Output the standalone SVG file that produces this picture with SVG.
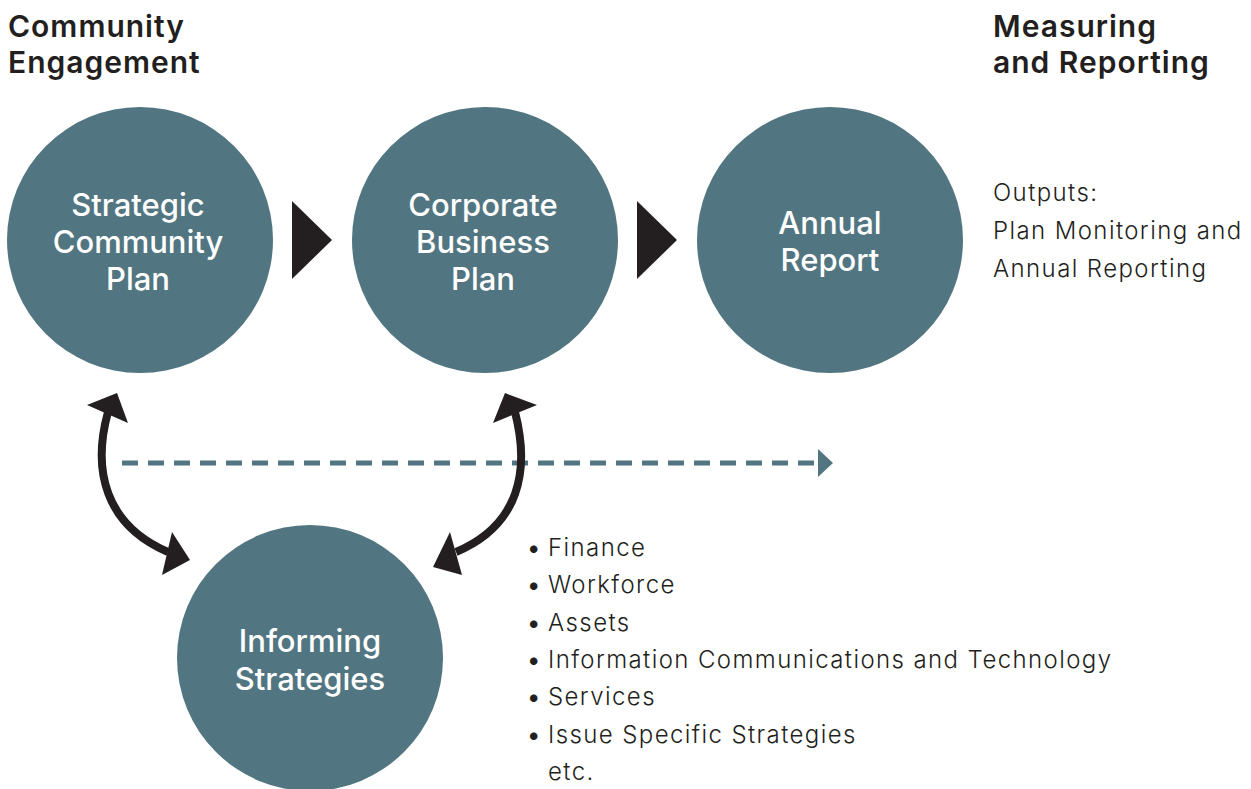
<svg xmlns="http://www.w3.org/2000/svg" width="1251" height="789" viewBox="0 0 1251 789">
<style>
.node{fill:#527681}
.lbl{font-family:Inter,"Open Sans",sans-serif;font-size:31px;font-weight:500;fill:#ffffff;text-anchor:middle}
.head{font-family:Inter,"Open Sans",sans-serif;font-size:30px;font-weight:600;fill:#231f20;letter-spacing:1px}
.body{font-family:Inter,"Open Sans",sans-serif;font-size:24px;font-weight:300;fill:#231f20;letter-spacing:1.4px}
.bul{font-weight:700}
.tri{fill:#231f20}
.curve{fill:none;stroke:#231f20;stroke-width:8}
.dash{fill:none;stroke:#527681;stroke-width:5;stroke-dasharray:16 10}
</style>
<rect width="1251" height="789" fill="#ffffff"/>
<g id="heading-left">
<text class="head"><tspan x="8" y="37">Community</tspan><tspan x="8" y="73">Engagement</tspan></text>
</g>
<g id="heading-right">
<text class="head"><tspan x="993" y="37">Measuring</tspan><tspan x="993" y="73">and Reporting</tspan></text>
</g>
<g id="outputs">
<text class="body"><tspan x="993" y="201">Outputs:</tspan><tspan x="993" y="239">Plan Monitoring and</tspan><tspan x="993" y="277">Annual Reporting</tspan></text>
</g>
<g id="connectors">
<polygon class="tri" points="292,201 332,240 292,279"/>
<polygon class="tri" points="637,201 677,240 637,279"/>
<path class="dash" d="M122,463 H818"/>
<polygon fill="#527681" points="818,449 833,463 818,477"/>
<path class="curve" d="M108,412 C92,470 105,525 168,552"/>
<polygon class="tri" points="117,393 87,405 128,423"/>
<polygon class="tri" points="190,560 172,532 162,575"/>
<path class="curve" d="M515,412 C530,470 520,525 456,552"/>
<polygon class="tri" points="505,393 537,405 493,423"/>
<polygon class="tri" points="433,567 450,532 462,575"/>
</g>
<g id="strategic-community-plan">
<circle class="node" cx="140" cy="240" r="133"/>
<text class="lbl"><tspan x="138" y="216">Strategic</tspan><tspan x="138" y="253">Community</tspan><tspan x="138" y="290">Plan</tspan></text>
</g>
<g id="corporate-business-plan">
<circle class="node" cx="485" cy="240" r="133"/>
<text class="lbl"><tspan x="483" y="216">Corporate</tspan><tspan x="483" y="253">Business</tspan><tspan x="483" y="290">Plan</tspan></text>
</g>
<g id="annual-report">
<circle class="node" cx="830" cy="240" r="133"/>
<text class="lbl"><tspan x="830" y="234">Annual</tspan><tspan x="830" y="271">Report</tspan></text>
</g>
<g id="informing-strategies">
<circle class="node" cx="310" cy="658" r="133"/>
<text class="lbl"><tspan x="310" y="652">Informing</tspan><tspan x="310" y="690">Strategies</tspan></text>
</g>
<g id="strategy-list">
<text class="body"><tspan class="bul" x="528" y="556">•</tspan><tspan x="548" y="556">Finance</tspan></text>
<text class="body"><tspan class="bul" x="528" y="593">•</tspan><tspan x="548" y="593">Workforce</tspan></text>
<text class="body"><tspan class="bul" x="528" y="631">•</tspan><tspan x="548" y="631">Assets</tspan></text>
<text class="body"><tspan class="bul" x="528" y="668">•</tspan><tspan x="548" y="668">Information Communications and Technology</tspan></text>
<text class="body"><tspan class="bul" x="528" y="705">•</tspan><tspan x="548" y="705">Services</tspan></text>
<text class="body"><tspan class="bul" x="528" y="743">•</tspan><tspan x="548" y="743">Issue Specific Strategies</tspan></text>
<text class="body" x="548" y="780">etc.</text>
</g>
</svg>
